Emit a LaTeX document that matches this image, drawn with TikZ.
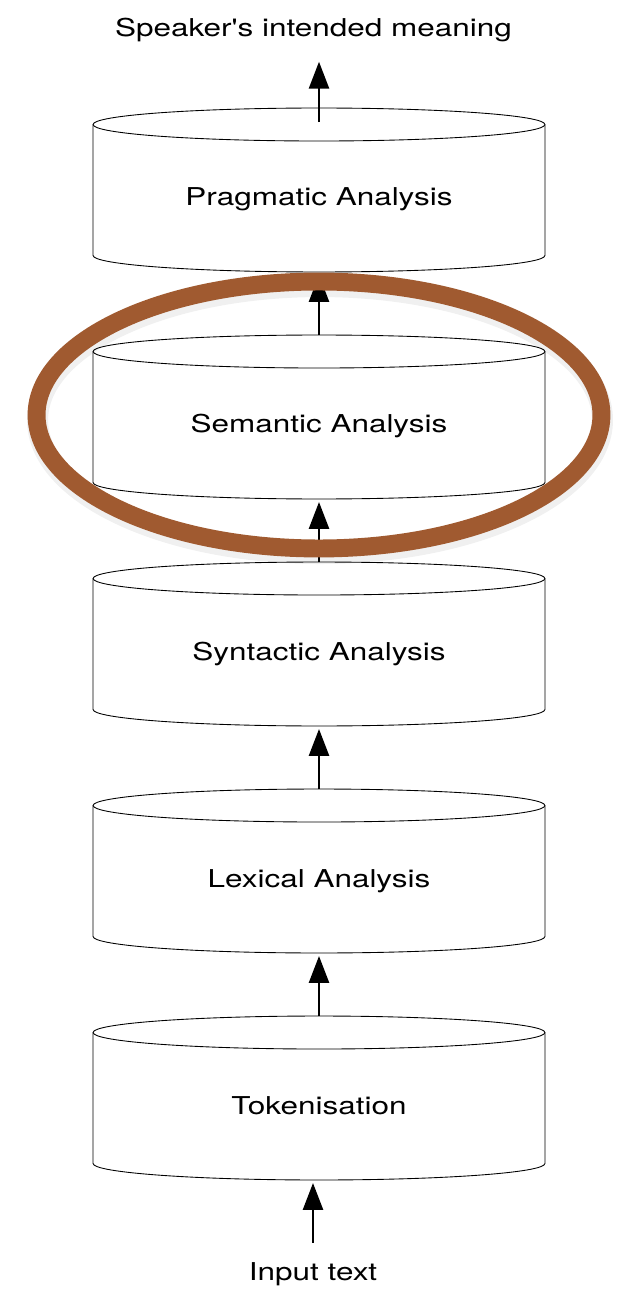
\documentclass[tikz,border=0pt]{standalone}
\usepackage{fontspec}
\setmainfont[FakeStretch=1.28, Ligatures=TeXOff]{TeX Gyre Heros}
\usepackage{tikz}
\usetikzlibrary{arrows.meta, positioning}
\definecolor{ringbrown}{RGB}{160,90,48}

\begin{document}
\begin{tikzpicture}[
  x=0.02cm, y=-0.02cm,
  stage/.style={minimum width=9.04cm, minimum height=3.28cm, inner sep=0pt, outer sep=0pt, font=\fontsize{14}{17}\selectfont, text height=0.64cm, text depth=0pt},
  rim/.style={line width=0.5pt},
  io/.style={inner sep=0pt, font=\fontsize{14}{17}\selectfont, text height=0.355cm, text depth=0pt},
  flow/.style={-{Triangle[length=5.4mm, width=4mm]}, line width=1.5pt},
  ring/.style={draw=ringbrown, line width=10.2pt}
]
\useasboundingbox (0,0) rectangle (623,1290);

% Pipeline stages, bottom to top
\node[io] (meaning) at (313.5, 27.5) {Speaker's intended meaning};
\node[stage] (prag) at (319, 190) {Pragmatic Analysis};
\node[stage] (sem) at (319, 417) {Semantic Analysis};
\node[stage] (syn) at (319, 644) {Syntactic Analysis};
\node[stage] (lex) at (319, 871) {Lexical Analysis};
\node[stage] (tok) at (319, 1098) {Tokenisation};
\node[io] (input) at (313, 1272) {Input text};

% Cylinder outlines round the stages
\foreach \s in {prag,sem,syn,lex,tok}{
  \draw[rim] ([yshift=-0.33cm]\s.north) ellipse [x radius=4.52cm, y radius=0.33cm];
  \draw[rim] ([yshift=-0.33cm]\s.north west) -- ([yshift=0.33cm]\s.south west)
    arc [start angle=180, end angle=360, x radius=4.52cm, y radius=0.33cm] -- ([yshift=-0.33cm]\s.north east);
}

% Flow between stages
\draw[flow, shorten <=0.4cm, shorten >=0.06cm] (input.north) -- (input.north |- tok.south);
\draw[flow, shorten >=0.06cm] (tok.north) -- (lex.south);
\draw[flow, shorten >=0.06cm] (lex.north) -- (syn.south);
\draw[flow, shorten >=0.06cm] (syn.north) -- (sem.south);
\draw[flow, shorten >=0.06cm] (sem.north) -- (prag.south);
\draw[flow, shorten <=-0.28cm, shorten >=0.5cm] (prag.north) -- (prag.north |- meaning.south);

% Highlight ring round the semantic stage
\draw[black, opacity=0.06, line width=12pt] ([shift={(1,3)}]sem.center) ellipse [x radius=5.65cm, y radius=2.67cm];
\draw[ring] ([yshift=0.04cm]sem.center) ellipse [x radius=5.65cm, y radius=2.67cm];

\end{tikzpicture}
\end{document}
